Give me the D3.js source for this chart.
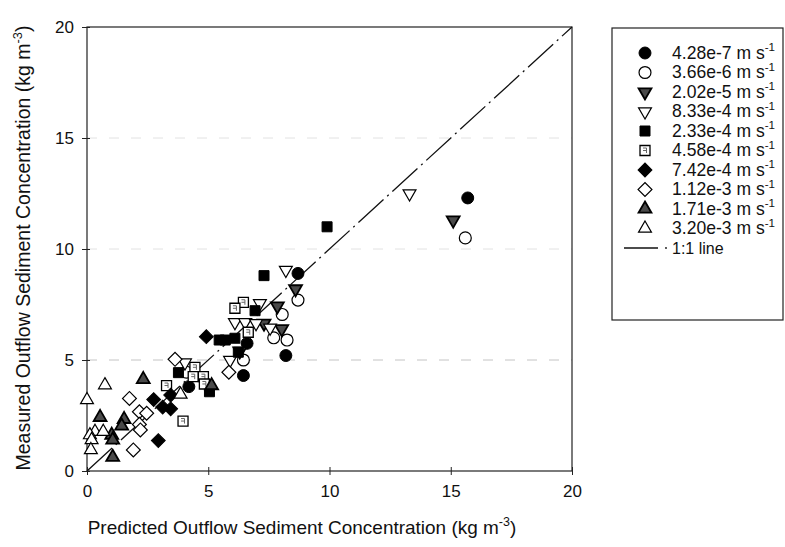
<!DOCTYPE html>
<html><head><meta charset="utf-8">
<script src="https://cdn.jsdelivr.net/npm/d3@7"></script>
<style>
body{margin:0;background:#fff;}
svg{font-family:"Liberation Sans",Arial,sans-serif;}
</style></head>
<body><svg id="c" width="785" height="547"></svg>
<script>
// ---- data ----
const xTicks = [0,5,10,15,20];
const yTicks = [0,5,10,15,20];
const gridY = [5,10,15];
const seriesLabels = ["4.28e-7","3.66e-6","2.02e-5","8.33e-4","2.33e-4","4.58e-4","7.42e-4","1.12e-3","1.71e-3","3.20e-3"];
const seriesShapes = ["circleFill","circleOpen","triDownGray","triDownOpen","squareFill","squareBoxed","diamondFill","diamondOpen","triUpGray","triUpOpen"];
const s1 = [[15.7,12.3],[8.7,8.9],[6.6,5.75],[8.2,5.2],[6.45,4.3],[4.2,3.8]];
const s2 = [[15.6,10.5],[8.7,7.7],[8.05,7.05],[7.7,6.0],[8.25,5.9],[6.45,5.0],[4.1,4.45]];
const s3 = [[15.1,11.3],[8.6,8.2],[7.85,7.43],[8.03,6.4],[7.3,6.65],[6.3,5.4]];
const s4 = [[13.3,12.5],[8.2,9.05],[7.13,7.55],[6.1,6.7],[6.52,6.7],[6.97,6.65],[7.55,6.45],[5.9,5.0],[4.04,4.88]];
const s5 = [[9.9,11.0],[7.3,8.8],[6.93,7.22],[5.45,5.9],[5.7,5.9],[6.1,5.98],[6.24,5.35],[3.77,4.43],[5.05,3.57]];
const s6 = [[6.45,7.6],[6.1,7.33],[6.65,6.25],[4.45,4.67],[4.38,4.25],[4.8,4.25],[4.84,3.92],[3.28,3.85],[3.96,2.25]];
const s7 = [[4.92,6.05],[3.45,3.42],[2.75,3.22],[3.12,2.88],[3.45,2.8],[2.94,1.37]];
const s8 = [[3.63,5.03],[5.85,4.45],[1.75,3.27],[2.16,2.67],[2.46,2.6],[2.16,2.1],[2.2,1.85],[1.91,0.95]];
const s9 = [[2.32,4.13],[0.54,2.42],[1.53,2.33],[1.43,2.03],[1.02,1.62],[1.06,1.4],[1.06,0.62],[5.14,3.85]];
const s10 = [[0.0,3.2],[0.74,3.87],[0.33,1.77],[0.67,1.77],[0.12,1.62],[0.19,1.4],[0.16,0.95],[3.86,3.45]];
const seriesData = [s1,s2,s3,s4,s5,s6,s7,s8,s9,s10];
const oneToOne = [[0,0],[20,20]];

// ---- chart ----
const svg = d3.select("#c");
const x = d3.scaleLinear().domain([0,20]).range([87,572]);
const y = d3.scaleLinear().domain([0,20]).range([471,27]);

// grid
svg.append("g").selectAll("line").data(gridY).join("line")
  .attr("x1",x(0)).attr("x2",x(20)).attr("y1",d=>y(d)).attr("y2",d=>y(d))
  .attr("stroke",d=>d===5?"#c4c4c4":"#e2e2e2").attr("stroke-width",1).attr("stroke-dasharray","10,12");

// frame
svg.append("rect").attr("x",x(0)).attr("y",y(20)).attr("width",x(20)-x(0)).attr("height",y(0)-y(20))
  .attr("fill","none").attr("stroke","#222").attr("stroke-width",1.2);

// axes
const xa = svg.append("g").attr("transform",`translate(0,${y(0)})`)
  .call(d3.axisBottom(x).tickValues(xTicks).tickSize(4).tickSizeOuter(0).tickPadding(10));
const ya = svg.append("g").attr("transform",`translate(${x(0)},0)`)
  .call(d3.axisLeft(y).tickValues(yTicks).tickSize(5).tickSizeOuter(0).tickPadding(8));
[xa,ya].forEach(a=>{
  a.select(".domain").remove();
  a.selectAll("text").attr("font-size",17).attr("fill","#111").attr("font-family","Liberation Sans, Arial, sans-serif");
  a.selectAll("line").attr("stroke","#222");
});
xa.selectAll(".tick line").attr("y1",-4);
ya.selectAll(".tick line").attr("x1",-5).attr("x2",3);

// 1:1 line
svg.append("line")
  .attr("x1",x(oneToOne[0][0])).attr("y1",y(oneToOne[0][1]))
  .attr("x2",x(oneToOne[1][0])).attr("y2",y(oneToOne[1][1]))
  .attr("stroke","#111").attr("stroke-width",1.3).attr("stroke-dasharray","34,5,2,5");

// marker drawing
function drawMarker(g, shape){
  const tri = d3.symbol().type(d3.symbolTriangle).size(72)();
  const circ = d3.symbol().type(d3.symbolCircle).size(112)();
  const sq = d3.symbol().type(d3.symbolSquare).size(100)();
  const dia = d3.symbol().type(d3.symbolSquare).size(96)();
  switch(shape){
    case "circleFill": g.append("path").attr("d",circ).attr("fill","#000").attr("stroke","#000"); break;
    case "circleOpen": g.append("path").attr("d",circ).attr("fill","#fff").attr("stroke","#000").attr("stroke-width",1.2); break;
    case "triDownGray": g.append("path").attr("d",tri).attr("transform","rotate(180)").attr("fill","#4a4a4a").attr("stroke","#000").attr("stroke-width",1.8); break;
    case "triDownOpen": g.append("path").attr("d",tri).attr("transform","rotate(180)").attr("fill","#fff").attr("stroke","#000").attr("stroke-width",1.2); break;
    case "squareFill": g.append("path").attr("d",sq).attr("fill","#000").attr("stroke","#000"); break;
    case "squareBoxed":
      g.append("path").attr("d",sq).attr("fill","#fff").attr("stroke","#000").attr("stroke-width",1.3);
      g.append("path").attr("d","M-2,-2.5L1.5,-2.5L1.5,2.5M-2,0L1.5,0").attr("fill","none").attr("stroke","#666").attr("stroke-width",1);
      break;
    case "diamondFill": g.append("path").attr("d",dia).attr("transform","rotate(45)").attr("fill","#000").attr("stroke","#000"); break;
    case "diamondOpen": g.append("path").attr("d",dia).attr("transform","rotate(45)").attr("fill","#fff").attr("stroke","#000").attr("stroke-width",1.2); break;
    case "triUpGray": g.append("path").attr("d",tri).attr("fill","#4a4a4a").attr("stroke","#000").attr("stroke-width",1.8); break;
    case "triUpOpen": g.append("path").attr("d",tri).attr("fill","#fff").attr("stroke","#000").attr("stroke-width",1.2); break;
  }
}

const pts = svg.append("g");
seriesData.forEach((data,i)=>{
  pts.append("g").selectAll("g").data(data).join("g")
    .attr("transform",d=>`translate(${x(d[0])},${y(d[1])})`)
    .each(function(){ drawMarker(d3.select(this), seriesShapes[i]); });
});

// text with superscript, fitted to a target width
function supText(sel, main, sup, tail, fs, target){
  sel.text(null);
  sel.attr("font-size",fs);
  sel.append("tspan").text(main);
  sel.append("tspan").attr("dy",-0.42*fs).attr("font-size",fs*0.66).text(sup);
  if (tail) sel.append("tspan").attr("dy",0.42*fs).text(tail);
  if (target){
    const w = sel.node().getComputedTextLength();
    const nf = fs*target/w;
    sel.text(null);
    supText(sel, main, sup, tail, nf, null);
  }
  return sel;
}

// axis titles
supText(svg.append("text").attr("x",302).attr("y",534).attr("text-anchor","middle").attr("fill","#111"),
  "Predicted Outflow Sediment Concentration (kg m","-3",")",18,429);
supText(svg.append("text").attr("transform","translate(30,248) rotate(-90)").attr("text-anchor","middle").attr("fill","#111"),
  "Measured Outflow Sediment Concentration (kg m","-3",")",18,445);

// legend
const lg = svg.append("g");
lg.append("rect").attr("x",612).attr("y",28).attr("width",171).attr("height",292)
  .attr("fill","#fff").attr("stroke","#222").attr("stroke-width",1.2);
seriesLabels.forEach((lab,i)=>{
  const yy = 53 + i*19.5;
  const g = lg.append("g").attr("transform",`translate(645,${yy})`);
  drawMarker(g, seriesShapes[i]);
  supText(lg.append("text").attr("x",672).attr("y",yy+5.5).attr("fill","#111"),
    `${lab} m s`,"-1",null,16,103);
});
const ly = 53 + 10*19.5;
lg.append("line").attr("x1",624).attr("x2",658).attr("y1",ly).attr("y2",ly).attr("stroke","#111").attr("stroke-width",1.3);
lg.append("circle").attr("cx",666).attr("cy",ly).attr("r",0.9).attr("fill","#111");
lg.append("text").attr("x",672).attr("y",ly+5.5).attr("font-size",16).attr("fill","#111").text("1:1 line");
</script></body></html>
